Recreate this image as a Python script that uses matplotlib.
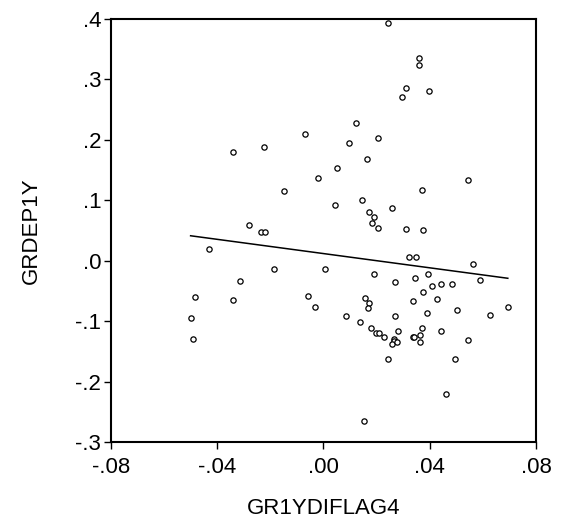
import matplotlib
matplotlib.use("Agg")
import matplotlib.pyplot as plt
import numpy as np

# scatter values
gr1ydiflag4 = [
    -0.0340, -0.0223, -0.0069, -0.0022, -0.0147, -0.0279, -0.0234, -0.0220, -0.0432,
    0.0244, 0.0360, 0.0360, 0.0312, 0.0399, 0.0294, 0.0121, 0.0204, 0.0095, 0.0165,
    0.0050, 0.0544, 0.0370, 0.0042, 0.0144, 0.0259, 0.0173, 0.0190, 0.0184, 0.0207,
    0.0311, 0.0375, 0.0322, 0.0348, 0.0562, 0.0007, 0.0189, 0.0395, 0.0346, 0.0268,
    0.0590, 0.0444, 0.0484, 0.0407, 0.0375, 0.0429, 0.0157, 0.0336, 0.0173, 0.0168,
    0.0504, 0.0390, 0.0085, 0.0268, 0.0627, 0.0694, 0.0138, 0.0178, 0.0370, 0.0281,
    0.0441, 0.0199, 0.0209, 0.0228, 0.0364, 0.0264, 0.0264, 0.0337, 0.0342, 0.0258,
    0.0276, 0.0365, 0.0546, 0.0242, 0.0496, 0.0460, 0.0151, -0.0033, -0.0057, -0.0187,
    -0.0314, -0.0484, -0.0341, -0.0500, -0.0492,
]
grdep1y = [
    0.180, 0.188, 0.209, 0.137, 0.116, 0.059, 0.047, 0.047, 0.019,
    0.393, 0.336, 0.323, 0.285, 0.280, 0.270, 0.228, 0.203, 0.195, 0.169,
    0.154, 0.133, 0.117, 0.092, 0.100, 0.088, 0.081, 0.072, 0.062, 0.054,
    0.052, 0.050, 0.0065, 0.0055, -0.005, -0.013, -0.022, -0.022, -0.028, -0.035,
    -0.032, -0.038, -0.038, -0.042, -0.051, -0.063, -0.062, -0.067, -0.070, -0.078,
    -0.081, -0.087, -0.091, -0.091, -0.090, -0.076, -0.101, -0.112, -0.112, -0.116,
    -0.116, -0.120, -0.120, -0.127, -0.123, -0.130, -0.133, -0.127, -0.127, -0.137,
    -0.135, -0.135, -0.131, -0.162, -0.162, -0.220, -0.265, -0.077, -0.059, -0.014,
    -0.034, -0.060, -0.065, -0.095, -0.130,
]

# regression line as drawn
fit_intercept = 0.0118
fit_slope = -0.589

x_ticks = [-0.08, -0.04, 0.00, 0.04, 0.08]
x_tick_labels = ["-.08", "-.04", ".00", ".04", ".08"]
y_ticks = [-0.3, -0.2, -0.1, 0.0, 0.1, 0.2, 0.3, 0.4]
y_tick_labels = ["-.3", "-.2", "-.1", ".0", ".1", ".2", ".3", ".4"]

plt.rcParams["font.family"] = ["Liberation Sans", "DejaVu Sans"]

fig = plt.figure(figsize=(5.63, 5.25), dpi=100)
ax = fig.add_axes([0.197, 0.158, 0.755, 0.806])

ax.plot(gr1ydiflag4, grdep1y, linestyle="none", marker="o", markersize=3.8,
        markerfacecolor="white", markeredgecolor="black", markeredgewidth=0.9)

xs = np.array([min(gr1ydiflag4), max(gr1ydiflag4)])
ax.plot(xs, fit_intercept + fit_slope * xs, color="black", linewidth=1.1)

ax.set_xlim(-0.08, 0.08)
ax.set_ylim(-0.3, 0.4)
ax.set_xticks(x_ticks)
ax.set_xticklabels(x_tick_labels)
ax.set_yticks(y_ticks)
ax.set_yticklabels(y_tick_labels)
ax.tick_params(axis="both", direction="out", length=5, width=1,
               labelsize=16, top=False, right=False)
ax.tick_params(axis="x", pad=6)
ax.tick_params(axis="y", pad=2)

for s in ax.spines.values():
    s.set_linewidth(1.5)
    s.set_color("black")

ax.set_xlabel("GR1YDIFLAG4", fontsize=16, labelpad=14)
ax.set_ylabel("GRDEP1Y", fontsize=16, labelpad=24)

fig.savefig("out.png", dpi=100)
